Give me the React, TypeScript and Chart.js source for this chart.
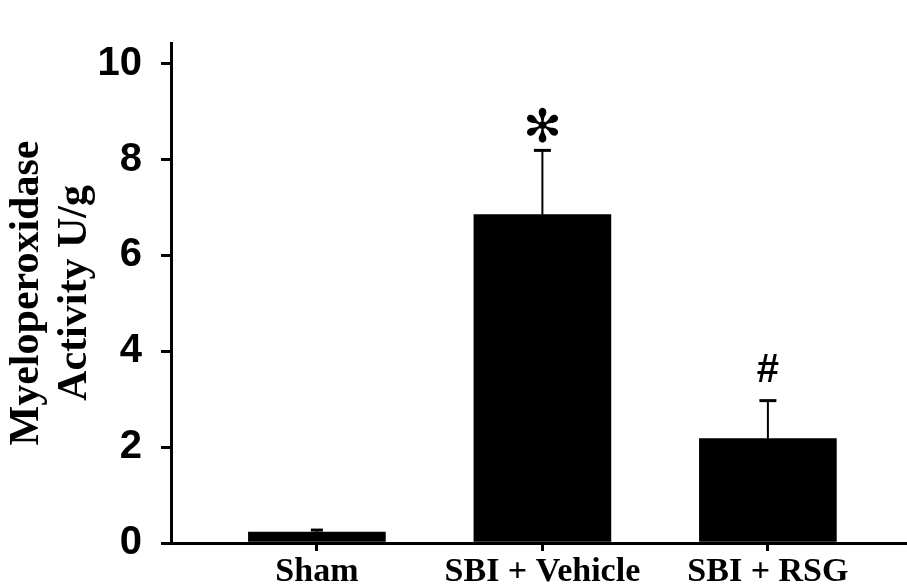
import React, { useEffect, useRef } from 'react';
import { Chart, registerables } from 'chart.js';

Chart.register(...registerables);

const categories = ['Sham', 'SBI + Vehicle', 'SBI + RSG'];
const meanValues = [0.23, 6.85, 2.18];
const upperErrorValues = [0.27, 8.19, 2.97];
const significanceMarks = ['', '✻', '#'];
const yTickValues = [0, 2, 4, 6, 8, 10];
const yAxisTitle = ['Myeloperoxidase', 'Activity U/g'];

const SERIF = '"Liberation Serif", "Times New Roman", serif';
const SANS = '"Liberation Sans", Arial, sans-serif';

const errorBarPlugin = {
  id: 'errorBars',
  afterDatasetsDraw(chart: any) {
    const { ctx, scales } = chart;
    const x = scales.x;
    const y = scales.y;
    ctx.save();
    ctx.strokeStyle = '#000';
    ctx.fillStyle = '#000';
    categories.forEach((_, i) => {
      const px = x.getPixelForValue(i);
      const top = y.getPixelForValue(meanValues[i]);
      const up = y.getPixelForValue(upperErrorValues[i]);
      const capHalf = i === 0 ? 6 : 8.5;
      ctx.lineWidth = 2;
      ctx.beginPath();
      ctx.moveTo(px, top);
      ctx.lineTo(px, up);
      ctx.stroke();
      ctx.lineWidth = 3;
      ctx.beginPath();
      ctx.moveTo(px - capHalf, up);
      ctx.lineTo(px + capHalf, up);
      ctx.stroke();
      const mark = significanceMarks[i];
      if (mark) {
        ctx.textAlign = 'center';
        ctx.textBaseline = 'middle';
        if (mark === '#') {
          ctx.font = `bold 40px ${SANS}`;
          ctx.fillText(mark, px, up - 30);
        } else {
          ctx.font = `46px "DejaVu Sans", sans-serif`;
          ctx.fillText(mark, px, up - 20);
        }
      }
    });
    ctx.restore();
  },
};

export default function App() {
  const canvasRef = useRef<HTMLCanvasElement | null>(null);

  useEffect(() => {
    const canvas = canvasRef.current;
    if (!canvas) return;
    const chart = new Chart(canvas, {
      type: 'bar',
      data: {
        datasets: [
          {
            data: meanValues.map((v, i) => ({ x: i, y: v })),
            backgroundColor: '#000',
            borderWidth: 0,
            barThickness: 137,
          },
        ],
      },
      options: {
        animation: false,
        responsive: false,
        maintainAspectRatio: false,
        layout: { padding: { top: 40, right: 2, left: 0, bottom: 0 } },
        plugins: {
          legend: { display: false },
          tooltip: { enabled: false },
        },
        scales: {
          x: {
            type: 'linear',
            min: -0.647,
            max: 2.608,
            offset: false,
            afterBuildTicks: (scale: any) => {
              scale.ticks = categories.map((_, i) => ({ value: i }));
            },
            afterFit: (scale: any) => {
              scale.height = 40;
            },
            ticks: {
              autoSkip: false,
              maxRotation: 0,
              padding: 1,
              color: '#000',
              font: { family: SERIF, size: 34, weight: 'bold' },
              callback: (v: any) => categories[v as number] ?? '',
            },
            grid: {
              offset: false,
              drawOnChartArea: false,
              drawTicks: true,
              tickLength: 8,
              color: '#000',
              lineWidth: 3,
            },
            border: { display: true, color: '#000', width: 3 },
          },
          y: {
            type: 'linear',
            min: 0,
            max: 10.43,
            afterBuildTicks: (scale: any) => {
              scale.ticks = yTickValues.map((v) => ({ value: v }));
            },
            afterFit: (scale: any) => {
              scale.width = 171;
            },
            ticks: {
              padding: 19,
              color: '#000',
              font: { family: SANS, size: 40, weight: 'bold' },
            },
            grid: {
              drawOnChartArea: false,
              drawTicks: true,
              tickLength: 10,
              color: '#000',
              lineWidth: 3,
            },
            border: { display: true, color: '#000', width: 3 },
            title: {
              display: true,
              text: yAxisTitle,
              color: '#000',
              padding: { top: 3, bottom: 0 },
              font: { family: SERIF, size: 42, weight: 'bold', lineHeight: 1.15 },
            },
          },
        },
      },
      plugins: [errorBarPlugin],
    } as any);
    return () => chart.destroy();
  }, []);

  return (
    <div style={{ position: 'absolute', left: 0, top: 0, width: 907, height: 586, background: '#fff' }}>
      <canvas ref={canvasRef} width={907} height={586} />
    </div>
  );
}
